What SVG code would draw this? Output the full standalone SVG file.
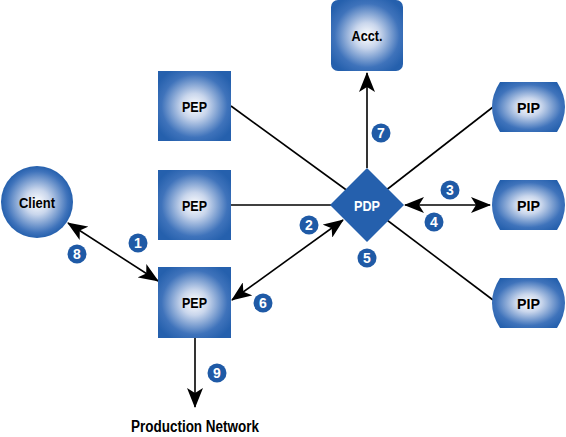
<svg xmlns="http://www.w3.org/2000/svg" width="566" height="437" viewBox="0 0 566 437">
<defs>
<radialGradient id="g" cx="50%" cy="50%" r="60%">
<stop offset="0" stop-color="#ffffff"/>
<stop offset="0.3" stop-color="#c9d6ec"/>
<stop offset="0.75" stop-color="#3f73bb"/>
<stop offset="1" stop-color="#2560ad"/>
</radialGradient>
<radialGradient id="gc" cx="50%" cy="50%" r="50%">
<stop offset="0" stop-color="#ffffff"/>
<stop offset="0.35" stop-color="#c9d6ec"/>
<stop offset="0.85" stop-color="#3f73bb"/>
<stop offset="1" stop-color="#2560ad"/>
</radialGradient>
<marker id="ah" markerUnits="userSpaceOnUse" markerWidth="20" markerHeight="16" viewBox="0 0 20 16" refX="19" refY="8" orient="auto-start-reverse">
<path d="M0,0 L20,8 L0,16 L5,8 Z" fill="#000"/>
</marker>
<style>
.lbl{font-family:"Liberation Sans",Arial,sans-serif;font-weight:bold;font-size:15px;text-anchor:middle;fill:#000}
.w{fill:#fff}
.ln{stroke:#000;stroke-width:1.6;fill:none}
.bd{fill:#1f5aa6}
.num{font-family:"Liberation Sans",Arial,sans-serif;font-weight:bold;font-size:14px;text-anchor:middle;fill:#fff}
</style>
</defs>
<g id="connectors">
<line class="ln" x1="231" y1="106" x2="367" y2="205"/>
<line class="ln" x1="231" y1="205" x2="367" y2="205"/>
<line class="ln" x1="493" y1="107" x2="367" y2="205"/>
<line class="ln" x1="493" y1="300" x2="367" y2="205"/>
<line class="ln" x1="367" y1="168" x2="367" y2="73" marker-end="url(#ah)"/>
<line class="ln" x1="405" y1="205" x2="490" y2="205" marker-start="url(#ah)" marker-end="url(#ah)"/>
<line class="ln" x1="68" y1="223" x2="158" y2="281" marker-start="url(#ah)" marker-end="url(#ah)"/>
<line class="ln" x1="232" y1="300" x2="343" y2="220" marker-start="url(#ah)" marker-end="url(#ah)"/>
<line class="ln" x1="195" y1="338" x2="195" y2="407" marker-end="url(#ah)"/>
</g>
<g id="client">
<circle cx="37" cy="202" r="36" fill="url(#gc)"/>
<text class="lbl" x="37" y="207.5" textLength="36" lengthAdjust="spacingAndGlyphs">Client</text>
</g>
<g id="pep1">
<rect x="158" y="71" width="73" height="70" fill="url(#g)"/>
<text class="lbl" x="194.5" y="111.5" textLength="25" lengthAdjust="spacingAndGlyphs">PEP</text>
</g>
<g id="pep2">
<rect x="158" y="170" width="73" height="70" fill="url(#g)"/>
<text class="lbl" x="194.5" y="210.5" textLength="25" lengthAdjust="spacingAndGlyphs">PEP</text>
</g>
<g id="pep3">
<rect x="158" y="267" width="73" height="71" fill="url(#g)"/>
<text class="lbl" x="194.5" y="308" textLength="25" lengthAdjust="spacingAndGlyphs">PEP</text>
</g>
<g id="acct">
<rect x="331" y="0" width="72" height="71" rx="7" fill="url(#g)"/>
<text class="lbl" x="367" y="40.5" textLength="31" lengthAdjust="spacingAndGlyphs">Acct.</text>
</g>
<g id="pdp">
<polygon points="367,168 404,205 367,242 330,205" fill="#2560ad"/>
<text class="lbl w" x="367" y="210.5" textLength="26" lengthAdjust="spacingAndGlyphs">PDP</text>
</g>
<g id="pip1">
<path d="M500,82 H557 Q573,107 557,132 H500 Q484,107 500,82 Z" fill="url(#g)"/>
<text class="lbl" x="528.5" y="112.5" textLength="23" lengthAdjust="spacingAndGlyphs">PIP</text>
</g>
<g id="pip2">
<path d="M500,180 H557 Q573,205 557,230 H500 Q484,205 500,180 Z" fill="url(#g)"/>
<text class="lbl" x="528.5" y="210.5" textLength="23" lengthAdjust="spacingAndGlyphs">PIP</text>
</g>
<g id="pip3">
<path d="M500,278 H557 Q573,303 557,328 H500 Q484,303 500,278 Z" fill="url(#g)"/>
<text class="lbl" x="528.5" y="308.5" textLength="23" lengthAdjust="spacingAndGlyphs">PIP</text>
</g>
<g id="production">
<text class="lbl" x="195" y="432" textLength="128" lengthAdjust="spacingAndGlyphs" style="font-size:16px">Production Network</text>
</g>
<g id="badges">
<circle class="bd" cx="138" cy="243" r="9.5"/><text class="num" x="138" y="248">1</text>
<circle class="bd" cx="309" cy="225" r="9.5"/><text class="num" x="309" y="230">2</text>
<circle class="bd" cx="450" cy="190" r="9.5"/><text class="num" x="450" y="195">3</text>
<circle class="bd" cx="434" cy="222" r="9.5"/><text class="num" x="434" y="227">4</text>
<circle class="bd" cx="367" cy="258" r="9.5"/><text class="num" x="367" y="263">5</text>
<circle class="bd" cx="263" cy="303" r="9.5"/><text class="num" x="263" y="308">6</text>
<circle class="bd" cx="381" cy="133" r="9.5"/><text class="num" x="381" y="138">7</text>
<circle class="bd" cx="77" cy="254" r="9.5"/><text class="num" x="77" y="259">8</text>
<circle class="bd" cx="217" cy="373" r="9.5"/><text class="num" x="217" y="378">9</text>
</g>
</svg>
